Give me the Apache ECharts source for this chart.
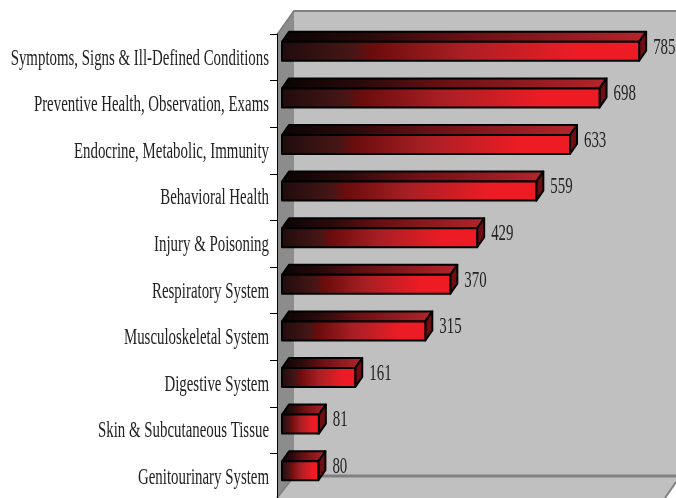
<!DOCTYPE html>
<html>
<head>
<meta charset="utf-8">
<script src="https://cdn.jsdelivr.net/npm/echarts@6/dist/echarts.min.js"></script>
<style>
  html, body { margin: 0; padding: 0; background: #fff; }
  #chart { width: 676px; height: 498px; }
</style>
</head>
<body>
<div id="chart"></div>
<script>
const categories = [
  'Symptoms, Signs & Ill-Defined Conditions',
  'Preventive Health, Observation, Exams',
  'Endocrine, Metabolic, Immunity',
  'Behavioral Health',
  'Injury & Poisoning',
  'Respiratory System',
  'Musculoskeletal System',
  'Digestive System',
  'Skin & Subcutaneous Tissue',
  'Genitourinary System'
];
const values = [785, 698, 633, 559, 429, 370, 315, 161, 81, 80];

// 3D look of the bars, in pixels
const depthX = 7;
const depthY = 10;
const barHeight = 19;
const barShift = -6; // front face sits above the band centre
const textFont = '24px "Liberation Serif"';
const textSqueeze = 0.62; // original type is tall and condensed

const chart = echarts.init(document.getElementById('chart'), null, { renderer: 'canvas' });

function hGrad(stops) {
  return new echarts.graphic.LinearGradient(0, 0, 1, 0,
    stops.map(s => ({ offset: s[0], color: s[1] })));
}

function renderBar(params, api) {
  const idx = api.value(1);
  const end = api.coord([api.value(0), idx]);
  const start = api.coord([0, idx]);
  const x0 = start[0];
  const x1 = end[0];
  const y0 = end[1] + barShift - barHeight / 2;
  const y1 = y0 + barHeight;
  const border = { stroke: '#000', lineWidth: 2, lineJoin: 'round' };
  return {
    type: 'group',
    children: [
      {
        type: 'polygon',
        shape: { points: [[x0, y0], [x0 + depthX, y0 - depthY], [x1 + depthX, y0 - depthY], [x1, y0]] },
        style: Object.assign({
          fill: hGrad([[0, '#0a0404'], [0.25, '#2c0a0a'], [0.5, '#6a1014'], [1, '#b5252b']])
        }, border)
      },
      {
        type: 'polygon',
        shape: { points: [[x1, y0], [x1 + depthX, y0 - depthY], [x1 + depthX, y1 - depthY], [x1, y1]] },
        style: Object.assign({ fill: '#6e0d12' }, border)
      },
      {
        type: 'rect',
        shape: { x: x0, y: y0, width: x1 - x0, height: barHeight },
        style: Object.assign({
          fill: hGrad([[0, '#200c0c'], [0.2, '#471616'], [0.25, '#6a0c0c'], [0.5, '#a81f24'], [0.82, '#ed1c24'], [1, '#ed1c24']])
        }, border)
      },
      {
        type: 'text',
        x: x1 + depthX + 7,
        y: y0 + barHeight / 2 - 4,
        scaleX: textSqueeze,
        style: { text: String(api.value(0)), fill: '#222', font: textFont, align: 'left', verticalAlign: 'middle' }
      },
      {
        type: 'text',
        x: x0 - 13,
        y: end[1] + 1,
        scaleX: textSqueeze,
        style: { text: categories[idx], fill: '#222', font: textFont, align: 'right', verticalAlign: 'middle' }
      }
    ]
  };
}

const wallGrey = '#c0c0c0';
const edgeGrey = '#808080';

chart.setOption({
  animation: false,
  backgroundColor: '#fff',
  grid: { left: 282, right: 0, top: 34, bottom: -2, outerBoundsMode: 'none' },
  xAxis: { type: 'value', min: 0, max: 866, show: false },
  yAxis: {
    type: 'category',
    inverse: true,
    data: categories,
    offset: 5,
    axisLine: { show: true, onZero: false, lineStyle: { color: '#000', width: 1 } },
    axisTick: { show: true, alignWithLabel: false, length: 7, lineStyle: { color: '#000' } },
    axisLabel: { show: false },
    splitLine: { show: false }
  },
  graphic: [
    { type: 'rect', z: -10, shape: { x: 294, y: 11, width: 382, height: 465 }, style: { fill: wallGrey } },
    { type: 'polygon', z: -10, shape: { points: [[277, 35], [294, 11], [294, 476], [277, 498]] }, style: { fill: '#8c8c8c' } },
    { type: 'polygon', z: -10, shape: { points: [[277, 498], [294, 476], [676, 476], [676, 482], [665, 498]] }, style: { fill: wallGrey } },
    { type: 'polyline', z: -9, shape: { points: [[277, 35], [294, 11], [676, 11]] }, style: { stroke: edgeGrey, lineWidth: 2, fill: null } },
    { type: 'line', z: -9, shape: { x1: 294, y1: 476, x2: 676, y2: 476 }, style: { stroke: edgeGrey, lineWidth: 3 } },
    { type: 'line', z: -9, shape: { x1: 294, y1: 476, x2: 277, y2: 498 }, style: { stroke: edgeGrey, lineWidth: 2 } },
    { type: 'line', z: -9, shape: { x1: 676, y1: 482, x2: 665, y2: 498 }, style: { stroke: edgeGrey, lineWidth: 2 } }
  ],
  series: [{
    type: 'custom',
    coordinateSystem: 'cartesian2d',
    clip: false,
    renderItem: renderBar,
    encode: { x: 0, y: 1 },
    data: values.map((v, i) => [v, i])
  }]
});
</script>
</body>
</html>
